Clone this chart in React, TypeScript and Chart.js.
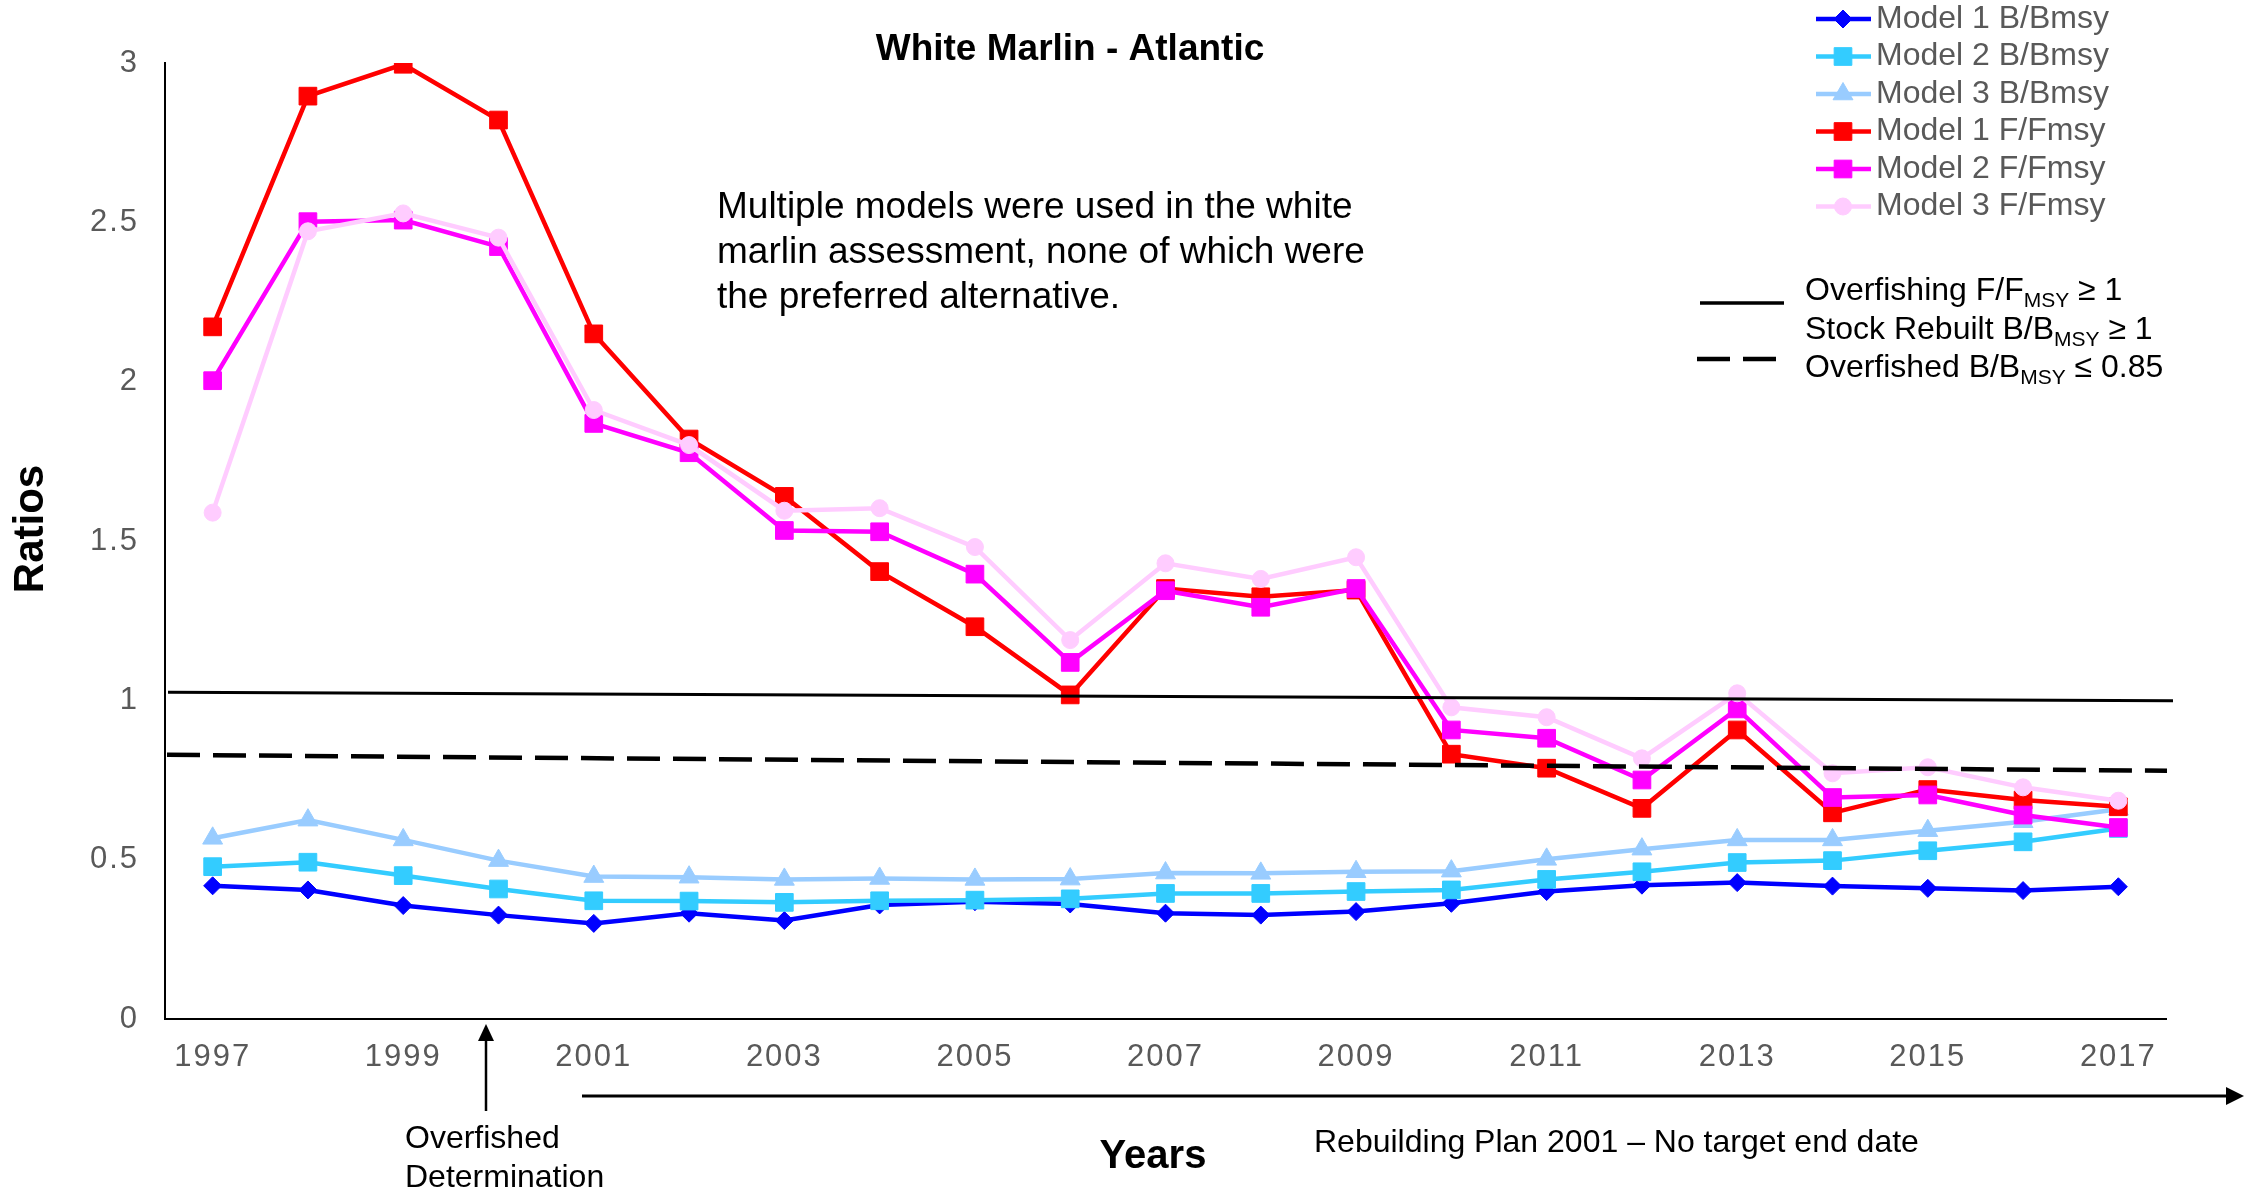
import React, { useEffect, useRef } from 'react';
import { Chart, registerables } from 'chart.js';
import { drawPoint } from 'chart.js/helpers';

Chart.register(...registerables);

const FONT = "'Liberation Sans', Arial, Helvetica, sans-serif";

const years = ['1997', '1998', '1999', '2000', '2001', '2002', '2003', '2004', '2005', '2006', '2007',
  '2008', '2009', '2010', '2011', '2012', '2013', '2014', '2015', '2016', '2017'];
const shownYearLabels = ['1997', '1999', '2001', '2003', '2005', '2007', '2009', '2011', '2013', '2015', '2017'];

const model1B = [0.418, 0.405, 0.356, 0.326, 0.300, 0.332, 0.309, 0.358, 0.368, 0.361, 0.332, 0.326, 0.337, 0.363, 0.400, 0.420, 0.428, 0.417, 0.410, 0.403, 0.415];
const model2B = [0.478, 0.492, 0.450, 0.408, 0.371, 0.370, 0.366, 0.371, 0.373, 0.377, 0.394, 0.394, 0.400, 0.405, 0.438, 0.462, 0.491, 0.497, 0.528, 0.556, 0.598];
const model3B = [0.567, 0.624, 0.562, 0.497, 0.447, 0.445, 0.438, 0.441, 0.438, 0.439, 0.458, 0.457, 0.462, 0.464, 0.501, 0.533, 0.562, 0.562, 0.591, 0.619, 0.658];
const model1F = [2.172, 2.896, 2.996, 2.821, 2.150, 1.820, 1.640, 1.404, 1.231, 1.017, 1.351, 1.325, 1.346, 0.831, 0.787, 0.661, 0.907, 0.647, 0.720, 0.687, 0.666];
const model2F = [2.003, 2.502, 2.507, 2.424, 1.869, 1.777, 1.533, 1.529, 1.396, 1.119, 1.344, 1.292, 1.351, 0.907, 0.881, 0.750, 0.973, 0.695, 0.703, 0.640, 0.601];
const model3F = [1.589, 2.472, 2.528, 2.452, 1.911, 1.801, 1.595, 1.603, 1.481, 1.189, 1.430, 1.381, 1.449, 0.978, 0.947, 0.818, 1.022, 0.771, 0.790, 0.727, 0.685];

// Reference lines (value at left end, value at right end)
const overfishingLine = [1.025, 0.999];
const overfishedLine = [0.829, 0.779];

const seriesLabels = ['Model 1 B/Bmsy', 'Model 2 B/Bmsy', 'Model 3 B/Bmsy', 'Model 1 F/Fmsy', 'Model 2 F/Fmsy', 'Model 3 F/Fmsy'];
const seriesColors = ['#0000FF', '#33CCFF', '#99CCFF', '#FF0000', '#FF00FF', '#FFCCFF'];
const seriesStyles = ['rectRot', 'rect', 'triangle', 'rect', 'rect', 'circle'];
const seriesRadius = [9, 12.5, 11.5, 12.5, 12.5, 8.5];
const seriesData = [model1B, model2B, model3B, model1F, model2F, model3F];

const chartTitle = 'White Marlin - Atlantic';
const noteLines = ['Multiple models were used in the white', 'marlin assessment, none of which were', 'the preferred alternative.'];

function drawSub(ctx: CanvasRenderingContext2D, x: number, y: number, parts: [string, boolean][]) {
  let cx = x;
  for (const [t, sub] of parts) {
    ctx.font = sub ? `21px ${FONT}` : `32px ${FONT}`;
    ctx.fillText(t, cx, sub ? y + 7 : y);
    cx += ctx.measureText(t).width;
  }
}

const tickSpacingPlugin = {
  id: 'tickSpacing',
  beforeDraw(chart: any) { (chart.ctx as any).letterSpacing = '2px'; },
  beforeDatasetsDraw(chart: any) { (chart.ctx as any).letterSpacing = '0px'; },
};

const annotationPlugin = {
  id: 'annotations',
  afterDraw(chart: any) {
    const ctx: CanvasRenderingContext2D = chart.ctx;
    const ys = chart.scales.y;
    const area = chart.chartArea;
    ctx.save();
    (ctx as any).letterSpacing = '0px';

    // reference lines
    ctx.strokeStyle = '#000';
    ctx.lineWidth = 3;
    ctx.beginPath();
    ctx.moveTo(area.left + 3, ys.getPixelForValue(overfishingLine[0]));
    ctx.lineTo(area.right + 7, ys.getPixelForValue(overfishingLine[1]));
    ctx.stroke();
    ctx.lineWidth = 4.5;
    ctx.setLineDash([33, 13]);
    ctx.beginPath();
    ctx.moveTo(area.left + 2, ys.getPixelForValue(overfishedLine[0]));
    ctx.lineTo(area.right + 1, ys.getPixelForValue(overfishedLine[1]));
    ctx.stroke();
    ctx.setLineDash([]);

    // title
    ctx.fillStyle = '#000';
    ctx.textAlign = 'center';
    ctx.textBaseline = 'alphabetic';
    ctx.font = `bold 37px ${FONT}`;
    ctx.fillText(chartTitle, 1070, 60);

    // note
    ctx.textAlign = 'left';
    ctx.font = `37px ${FONT}`;
    noteLines.forEach((l, i) => ctx.fillText(l, 717, 218 + i * 45));

    // axis titles
    ctx.font = `bold 40px ${FONT}`;
    ctx.textAlign = 'center';
    ctx.fillText('Years', 1153, 1168);
    ctx.save();
    ctx.translate(31, 529);
    ctx.rotate(-Math.PI / 2);
    ctx.textBaseline = 'middle';
    ctx.font = `bold 42px ${FONT}`;
    ctx.fillText('Ratios', 0, 0);
    ctx.restore();

    // series legend
    chart.data.datasets.forEach((ds: any, i: number) => {
      const cy = 19 + i * 37.5;
      ctx.strokeStyle = ds.borderColor;
      ctx.lineWidth = 4.5;
      ctx.beginPath();
      ctx.moveTo(1816, cy);
      ctx.lineTo(1871, cy);
      ctx.stroke();
      ctx.fillStyle = ds.backgroundColor;
      ctx.lineWidth = 1;
      drawPoint(ctx, { pointStyle: ds.pointStyle, radius: ds.pointRadius, borderWidth: 1, rotation: 0 } as any, 1843, cy);
      ctx.fillStyle = '#595959';
      ctx.font = `32px ${FONT}`;
      ctx.textAlign = 'left';
      ctx.textBaseline = 'middle';
      ctx.fillText(ds.label, 1876, cy);
    });

    // threshold legend
    ctx.strokeStyle = '#000';
    ctx.lineWidth = 3.5;
    ctx.beginPath();
    ctx.moveTo(1700, 303);
    ctx.lineTo(1784, 303);
    ctx.stroke();
    ctx.lineWidth = 4.5;
    ctx.beginPath();
    ctx.moveTo(1697, 359); ctx.lineTo(1730, 359);
    ctx.moveTo(1743, 359); ctx.lineTo(1776, 359);
    ctx.stroke();
    ctx.fillStyle = '#000';
    ctx.textBaseline = 'alphabetic';
    ctx.textAlign = 'left';
    drawSub(ctx, 1805, 300, [['Overfishing F/F', false], ['MSY', true], [' \u2265 1', false]]);
    drawSub(ctx, 1805, 339, [['Stock Rebuilt B/B', false], ['MSY', true], [' \u2265 1', false]]);
    drawSub(ctx, 1805, 377, [['Overfished B/B', false], ['MSY', true], [' \u2264 0.85', false]]);

    // overfished determination arrow
    ctx.lineWidth = 2.5;
    ctx.beginPath();
    ctx.moveTo(486, 1111);
    ctx.lineTo(486, 1036);
    ctx.stroke();
    ctx.beginPath();
    ctx.moveTo(486, 1024);
    ctx.lineTo(478, 1041);
    ctx.lineTo(494, 1041);
    ctx.closePath();
    ctx.fill();
    ctx.font = `32px ${FONT}`;
    ctx.fillText('Overfished', 405, 1148);
    ctx.fillText('Determination', 405, 1187);

    // rebuilding plan arrow
    ctx.lineWidth = 3;
    ctx.beginPath();
    ctx.moveTo(582, 1096);
    ctx.lineTo(2230, 1096);
    ctx.stroke();
    ctx.beginPath();
    ctx.moveTo(2244, 1096);
    ctx.lineTo(2226, 1087);
    ctx.lineTo(2226, 1105);
    ctx.closePath();
    ctx.fill();
    ctx.fillText('Rebuilding Plan 2001 \u2013 No target end date', 1314, 1152);

    ctx.restore();
  },
};

export default function App() {
  const ref = useRef<HTMLCanvasElement>(null);
  useEffect(() => {
    const canvas = ref.current;
    if (!canvas) return;
    Chart.defaults.font.family = FONT;
    const datasets = seriesData.map((d, i) => ({
      label: seriesLabels[i],
      data: d,
      borderColor: seriesColors[i],
      backgroundColor: seriesColors[i],
      pointBackgroundColor: seriesColors[i],
      pointBorderColor: seriesColors[i],
      pointStyle: seriesStyles[i],
      pointRadius: seriesRadius[i],
      pointBorderWidth: 1,
      borderWidth: 4.5,
      tension: 0,
      order: seriesData.length - i,
    }));
    const chart = new Chart(canvas, {
      type: 'line',
      data: { labels: years, datasets: datasets as any },
      options: {
        animation: false,
        responsive: false,
        maintainAspectRatio: false,
        devicePixelRatio: 1,
        layout: { padding: { top: 63, right: 94, left: 0, bottom: 0 } },
        plugins: {
          legend: { display: false },
          title: { display: false },
          tooltip: { enabled: false },
        },
        scales: {
          x: {
            type: 'category',
            offset: true,
            grid: { display: false, drawTicks: false },
            border: { display: true, color: '#000', width: 2 },
            ticks: {
              autoSkip: false,
              maxRotation: 0,
              minRotation: 0,
              padding: 20,
              color: '#595959',
              font: { size: 31 },
              callback: (_v: any, i: number) => (shownYearLabels.includes(years[i]) ? years[i] : ''),
            },
            afterFit: (s: any) => { s.height = 173; },
          },
          y: {
            min: 0,
            max: 3,
            grid: { display: false, drawTicks: false },
            border: { display: true, color: '#000', width: 2 },
            ticks: {
              stepSize: 0.5,
              padding: 26,
              color: '#595959',
              font: { size: 31 },
              callback: (v: any) => String(Number(v)),
            },
            afterFit: (s: any) => { s.width = 165; },
          },
        },
      } as any,
      plugins: [tickSpacingPlugin, annotationPlugin],
    });
    return () => chart.destroy();
  }, []);
  return (
    <div style={{ position: 'fixed', left: 0, top: 0, width: 2260, height: 1192, background: '#fff' }}>
      <canvas ref={ref} width={2260} height={1192} style={{ width: 2260, height: 1192, display: 'block' }} />
    </div>
  );
}
